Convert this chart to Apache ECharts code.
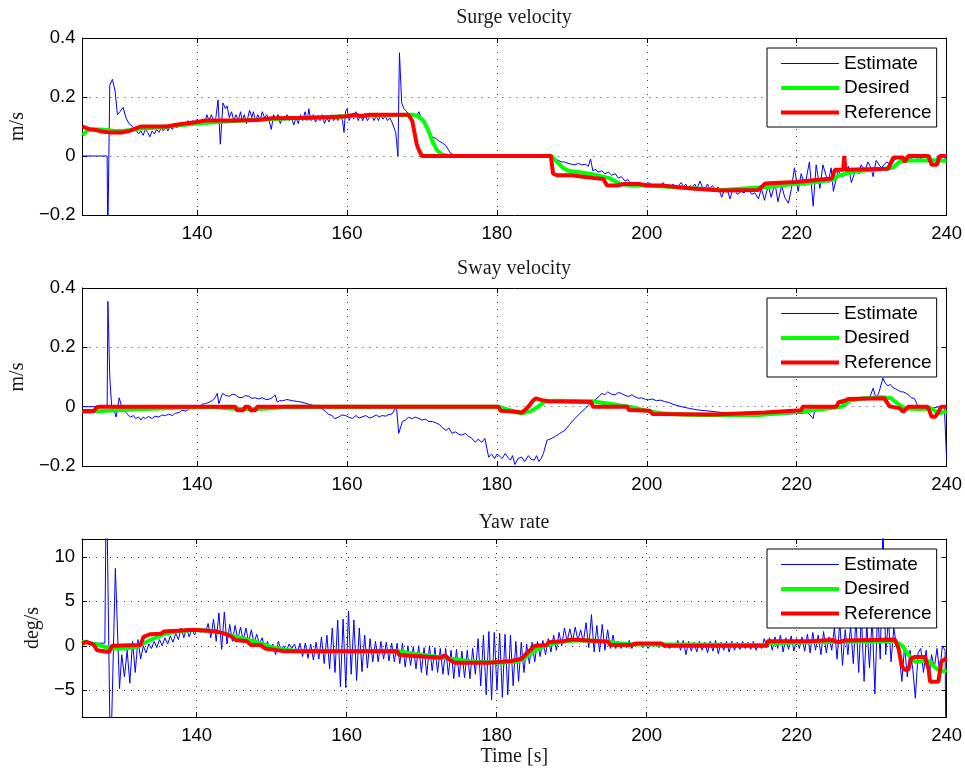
<!DOCTYPE html>
<html>
<head>
<meta charset="utf-8">
<script src="https://cdn.jsdelivr.net/npm/echarts@6/dist/echarts.min.js"></script>
<style>
  html, body { margin: 0; padding: 0; background: #fff; }
  #chart { width: 965px; height: 773px; }
</style>
</head>
<body>
<div id="chart"></div>
<script>
// ---- axis ticks ----
const timeTicks = [140, 160, 180, 200, 220, 240];
const velocityTicks = [-0.2, 0, 0.2, 0.4];
const yawTicks = [-5, 0, 5, 10];

const seriesNames = ['Estimate', 'Desired', 'Reference'];
const panelTitles = ['Surge velocity', 'Sway velocity', 'Yaw rate'];
const panelUnits = ['m/s', 'm/s', 'deg/s'];

// ---- surge velocity [t (s), m/s] ----
const surgeEstimate = [[124.7,0],[128.0,0],[128.08,-0.3],[128.35,0.24],[128.7,0.26],[129.06,0.22],[129.37,0.14],[129.7,0.15],[130.13,0.165],[130.5,0.13],[130.9,0.11],[131.4,0.1],[131.8,0.09],[132.2,0.075],[132.5,0.085],[132.8,0.07],[133.1,0.09],[133.4,0.08],[133.7,0.065],[134.0,0.085],[134.3,0.075],[134.6,0.09],[134.9,0.08],[135.2,0.095],[135.5,0.085],[135.8,0.1],[136.1,0.085],[136.4,0.1],[136.7,0.09],[137.0,0.105],[137.3,0.095],[137.6,0.11],[137.9,0.1],[138.2,0.115],[138.5,0.105],[138.8,0.12],[139.1,0.11],[139.4,0.12],[139.7,0.11],[140.0,0.125],[140.3,0.115],[140.7,0.125],[141.0,0.11],[141.3,0.14],[141.6,0.12],[141.9,0.14],[142.2,0.12],[142.5,0.13],[142.8,0.19],[143.1,0.04],[143.45,0.18],[143.8,0.16],[144.0,0.17],[144.3,0.13],[144.6,0.15],[144.9,0.12],[145.2,0.14],[145.5,0.12],[145.8,0.15],[146.0,0.12],[146.3,0.14],[146.6,0.11],[147.0,0.155],[147.3,0.13],[147.5,0.15],[147.8,0.12],[148.1,0.14],[148.4,0.12],[148.7,0.15],[149.0,0.13],[149.3,0.14],[149.6,0.12],[149.9,0.09],[150.2,0.14],[150.5,0.125],[150.8,0.14],[151.1,0.11],[151.4,0.13],[151.7,0.12],[152.0,0.14],[152.3,0.12],[152.6,0.13],[152.9,0.105],[153.2,0.13],[153.5,0.11],[153.8,0.14],[154.1,0.12],[154.4,0.15],[154.7,0.12],[154.9,0.16],[155.2,0.12],[155.5,0.14],[155.8,0.115],[156.1,0.13],[156.4,0.12],[156.7,0.14],[157.0,0.11],[157.3,0.13],[157.6,0.115],[157.9,0.14],[158.2,0.12],[158.5,0.13],[158.8,0.12],[159.1,0.14],[159.4,0.12],[159.6,0.08],[159.8,0.15],[160.0,0.16],[160.3,0.12],[160.6,0.14],[160.9,0.125],[161.2,0.15],[161.5,0.12],[161.8,0.14],[162.1,0.12],[162.4,0.145],[162.7,0.12],[163.0,0.13],[163.3,0.14],[163.6,0.12],[163.9,0.135],[164.2,0.12],[164.5,0.14],[164.8,0.125],[165.1,0.135],[165.4,0.12],[165.7,0.13],[166.0,0.115],[166.5,0.08],[166.8,0.0],[167.0,0.35],[167.3,0.18],[167.6,0.16],[168.0,0.15],[168.3,0.14],[168.7,0.145],[169.2,0.135],[169.6,0.15],[170.0,0.12],[170.5,0.1],[170.9,0.085],[171.4,0.065],[171.8,0.06],[172.3,0.05],[172.7,0.045],[173.2,0.035],[173.8,0.01],[174.5,0.0],[175.5,-0.004],[177.2,-0.005],[180,0.0],[183.5,0.005],[185,0.003],[187.3,0.0],[187.7,-0.01],[188.2,-0.015],[188.6,-0.02],[189.0,-0.02],[189.5,-0.025],[190.0,-0.028],[190.4,-0.03],[190.9,-0.025],[191.3,-0.03],[191.8,-0.028],[192.2,-0.035],[192.5,-0.01],[192.8,-0.05],[193.2,-0.045],[193.5,-0.055],[194.0,-0.05],[194.4,-0.06],[194.9,-0.055],[195.3,-0.065],[195.8,-0.06],[196.2,-0.075],[196.6,-0.07],[197.1,-0.085],[197.5,-0.08],[198.0,-0.1],[198.4,-0.09],[198.9,-0.09],[199.3,-0.1],[199.7,-0.1],[200.1,-0.09],[200.6,-0.095],[200.9,-0.105],[201.2,-0.095],[201.5,-0.105],[201.8,-0.1],[202.2,-0.09],[202.5,-0.105],[202.9,-0.1],[203.2,-0.11],[203.5,-0.095],[203.8,-0.105],[204.2,-0.1],[204.6,-0.09],[204.9,-0.105],[205.2,-0.095],[205.5,-0.11],[205.8,-0.1],[206.1,-0.105],[206.4,-0.095],[206.7,-0.11],[207.1,-0.085],[207.4,-0.105],[207.8,-0.11],[208.1,-0.095],[208.4,-0.11],[208.8,-0.1],[209.1,-0.115],[209.5,-0.105],[210.0,-0.14],[210.4,-0.11],[210.8,-0.12],[211.1,-0.145],[211.4,-0.12],[211.7,-0.115],[212.1,-0.13],[212.6,-0.12],[213.0,-0.125],[213.5,-0.11],[214.0,-0.13],[214.4,-0.125],[214.9,-0.145],[215.3,-0.11],[215.7,-0.15],[216.2,-0.1],[216.6,-0.14],[217.1,-0.09],[217.5,-0.155],[218.0,-0.1],[218.4,-0.14],[218.9,-0.16],[219.3,-0.11],[219.7,-0.04],[220.2,-0.12],[220.6,-0.06],[221.1,-0.1],[221.7,-0.02],[222.2,-0.17],[222.6,-0.03],[223.1,-0.11],[223.5,-0.03],[224.2,-0.09],[224.6,-0.04],[224.9,-0.12],[225.5,-0.05],[226.2,-0.07],[226.9,-0.035],[227.3,-0.09],[227.9,-0.045],[228.3,-0.06],[228.6,-0.03],[229.1,-0.05],[229.5,-0.02],[229.9,-0.04],[230.2,-0.07],[230.6,-0.015],[231.0,-0.03],[231.3,-0.04],[232.0,-0.02],[232.6,-0.03],[233.0,-0.015],[233.5,-0.005],[234.0,-0.015],[234.4,-0.02],[234.9,-0.005],[235.3,-0.01],[235.8,-0.015],[236.2,-0.005],[236.7,-0.01],[237.1,-0.02],[237.6,-0.005],[238.0,-0.01],[238.5,-0.015],[238.9,0.0],[239.3,-0.01],[239.7,-0.02],[240.0,0.01]];
const surgeDesired = [[124.7,0.07],[125.3,0.085],[126,0.09],[127,0.09],[128,0.088],[129,0.085],[130,0.085],[131,0.088],[132,0.092],[134,0.095],[136,0.1],[138,0.105],[140,0.11],[143,0.115],[146,0.12],[150,0.125],[155,0.13],[160,0.135],[165,0.138],[168.8,0.14],[169.5,0.135],[170.2,0.12],[170.8,0.09],[171.4,0.05],[172,0.02],[172.7,0.005],[173.5,0],[187.3,0],[188,-0.02],[188.8,-0.04],[189.5,-0.05],[191,-0.055],[193,-0.063],[195,-0.075],[196.5,-0.095],[198,-0.1],[200,-0.1],[205,-0.108],[210,-0.115],[213,-0.11],[216,-0.105],[219,-0.097],[222,-0.09],[224.8,-0.081],[225.7,-0.065],[228,-0.052],[230.2,-0.047],[232.8,-0.04],[233.7,-0.02],[235,-0.015],[238,-0.014],[240,-0.016]];
const surgeReference = [[124.7,0.1],[125.5,0.092],[126.5,0.088],[127.5,0.082],[128.5,0.08],[130,0.08],[131,0.085],[132,0.095],[132.5,0.1],[136,0.1],[137,0.105],[138.5,0.11],[140,0.115],[141,0.12],[145,0.12],[148,0.122],[150,0.128],[155,0.13],[158,0.132],[160,0.135],[161,0.14],[162,0.135],[163,0.14],[168.2,0.14],[168.7,0.12],[169.0,0.08],[169.3,0.04],[169.6,0.02],[170,0],[187.2,0],[187.5,-0.06],[188,-0.065],[190,-0.065],[191.5,-0.07],[193,-0.075],[194.2,-0.078],[194.7,-0.1],[196,-0.1],[197,-0.095],[199,-0.095],[200,-0.1],[202,-0.1],[204,-0.105],[206,-0.11],[210,-0.117],[214.9,-0.115],[215.8,-0.093],[219.8,-0.088],[224.7,-0.076],[225.1,-0.047],[226.2,-0.047],[226.35,0.0],[226.5,-0.047],[232.2,-0.043],[232.9,-0.005],[234.2,-0.005],[234.4,-0.02],[234.9,0],[237.6,0],[238.0,-0.03],[238.7,-0.03],[239.1,0],[240,0]];

// ---- sway velocity [t (s), m/s] ----
const swayEstimate = [[124.7,0],[128.0,0],[128.1,0.355],[128.35,0.1],[128.6,0.0],[128.9,-0.01],[129.2,-0.035],[129.6,0.03],[129.95,0.0],[130.5,-0.02],[131.1,-0.035],[131.5,-0.03],[131.8,-0.04],[132.2,-0.035],[132.5,-0.045],[132.8,-0.035],[133.1,-0.04],[133.5,-0.033],[134.0,-0.04],[134.4,-0.032],[134.9,-0.035],[135.3,-0.028],[135.8,-0.03],[136.2,-0.025],[136.7,-0.03],[137.1,-0.022],[137.6,-0.02],[138.0,-0.012],[138.5,-0.015],[139.0,-0.006],[139.4,-0.005],[139.9,0.002],[140.3,0.0],[140.7,0.008],[141.1,0.01],[141.6,0.015],[142.0,0.02],[142.4,0.03],[142.7,0.045],[142.9,0.01],[143.4,0.045],[143.8,0.038],[144.3,0.035],[144.7,0.042],[145.1,0.04],[145.5,0.032],[146.0,0.03],[146.4,0.037],[146.9,0.035],[147.3,0.028],[147.8,0.03],[148.2,0.026],[148.7,0.03],[149.2,0.024],[149.6,0.025],[150.0,0.03],[150.4,0.04],[150.7,0.015],[151.0,0.02],[151.4,0.02],[152.0,0.024],[152.7,0.02],[153.3,0.018],[154.0,0.015],[154.7,0.01],[155.4,0.005],[156.3,0.0],[156.7,-0.008],[157.1,-0.015],[157.5,-0.025],[158.0,-0.03],[158.4,-0.04],[158.9,-0.035],[159.3,-0.028],[159.8,-0.03],[160.2,-0.035],[160.7,-0.04],[161.2,-0.03],[161.6,-0.038],[162.0,-0.035],[162.5,-0.03],[163.0,-0.038],[163.4,-0.035],[163.9,-0.028],[164.3,-0.034],[164.7,-0.03],[165.2,-0.032],[165.6,-0.026],[166.0,-0.025],[166.6,0.0],[166.9,-0.09],[167.4,-0.05],[167.8,-0.045],[168.2,-0.036],[168.7,-0.04],[169.1,-0.035],[169.6,-0.04],[170.0,-0.045],[170.5,-0.042],[170.9,-0.05],[171.4,-0.05],[171.9,-0.055],[172.3,-0.06],[172.7,-0.07],[173.2,-0.08],[173.6,-0.072],[174.0,-0.09],[174.5,-0.085],[174.9,-0.093],[175.3,-0.096],[175.8,-0.09],[176.2,-0.1],[176.6,-0.105],[177.1,-0.12],[177.5,-0.11],[178.0,-0.12],[178.4,-0.107],[178.9,-0.17],[179.3,-0.16],[179.7,-0.175],[180.0,-0.16],[180.3,-0.165],[180.7,-0.175],[181.1,-0.158],[181.5,-0.172],[181.8,-0.18],[182.1,-0.165],[182.4,-0.195],[182.8,-0.175],[183.3,-0.17],[183.7,-0.185],[184.2,-0.165],[184.6,-0.178],[185.0,-0.18],[185.3,-0.165],[185.6,-0.185],[185.9,-0.175],[186.2,-0.158],[186.7,-0.113],[187.2,-0.108],[187.8,-0.1],[188.4,-0.09],[189.1,-0.079],[189.7,-0.06],[190.4,-0.04],[191.1,-0.022],[191.8,-0.006],[192.4,0.01],[193.1,0.023],[193.6,0.034],[194.0,0.045],[194.4,0.04],[194.8,0.05],[195.3,0.042],[195.8,0.04],[196.2,0.048],[196.6,0.045],[197.1,0.038],[197.6,0.034],[198.0,0.04],[198.4,0.034],[198.9,0.028],[199.3,0.03],[199.8,0.025],[200.2,0.023],[200.7,0.026],[201.3,0.02],[201.8,0.022],[202.4,0.017],[203.0,0.014],[203.5,0.008],[204.6,0.0],[205.7,-0.006],[206.8,-0.011],[209.1,-0.017],[211.3,-0.023],[213.5,-0.026],[215.7,-0.028],[218.0,-0.026],[220.2,-0.023],[221.5,-0.02],[222.2,-0.04],[222.4,-0.012],[223.5,-0.008],[224.6,0.0],[225.7,0.01],[226.8,0.017],[228.0,0.02],[229.1,0.028],[229.8,0.035],[230.2,0.062],[230.6,0.028],[231.0,0.05],[231.5,0.096],[231.8,0.08],[232.2,0.07],[232.5,0.075],[232.8,0.065],[233.2,0.06],[233.5,0.056],[233.9,0.05],[234.2,0.05],[234.6,0.045],[234.9,0.04],[235.3,0.03],[235.7,0.028],[236.2,0.0],[237.0,-0.003],[238.0,-0.006],[239.0,0.0],[239.7,0.0],[240.0,-0.175]];
const swayDesired = [[124.7,-0.017],[126,-0.016],[128,-0.014],[130,-0.011],[132,-0.009],[134,-0.007],[136,-0.005],[138,-0.003],[140.7,-0.002],[142,0],[144,-0.005],[146,-0.008],[148,-0.008],[150,-0.005],[151.8,0],[180.2,0],[181.5,-0.01],[183.3,-0.023],[184.5,-0.015],[185.5,0.0],[186.4,0.017],[187.5,0.02],[192.7,0.018],[195,0.01],[198,-0.002],[200.2,-0.015],[202,-0.022],[204.6,-0.026],[207,-0.028],[215,-0.028],[220.2,-0.017],[222.4,-0.011],[226,0],[227.3,0.023],[229,0.028],[231.3,0.032],[232.6,0.028],[233.5,0.01],[234.4,-0.006],[236.5,-0.008],[238,-0.006],[238.9,-0.023],[240,-0.015]];
const swayReference = [[124.7,-0.015],[126.2,-0.015],[126.6,-0.002],[127,0],[145.1,0],[145.3,-0.012],[146.2,-0.012],[146.4,0],[146.9,0],[147.1,-0.012],[147.8,-0.012],[148,0],[180.2,0],[180.5,-0.014],[182,-0.016],[183.3,-0.02],[183.8,-0.01],[184.2,0],[184.8,0.02],[185.2,0.028],[186.0,0.022],[186.9,0.018],[192.6,0.016],[192.8,0.0],[197.4,0],[197.6,-0.011],[200.4,-0.014],[200.8,-0.025],[209.1,-0.026],[215.7,-0.02],[220.6,-0.012],[220.8,0],[225.3,0],[225.6,0.015],[226.4,0.02],[226.9,0.026],[231.7,0.028],[232.4,0.001],[233.7,-0.005],[234.2,-0.017],[234.9,0],[237.5,0],[237.8,-0.02],[238.0,-0.034],[238.5,-0.034],[238.9,-0.018],[239.3,0],[240,0]];

// ---- yaw rate [t (s), deg/s] ----
// start-up transient, then samples every yawSampleStep seconds, then the final drop-out
const yawEstimateHead = [[124.7,0.3],[127.75,0.3],[127.95,20],[128.15,20],[128.5,-14],[128.75,-14],[129.15,8.7],[129.7,-4.8]];
const yawSampleStart = 130.0;
const yawSampleStep = 0.36;
const yawEstimateSamples = [
  -1.0, -3.5, -0.5, -4.2, 0.5, -3.0, 0.7, -1.5,
  0.0, -0.8, 0.2, -0.3, 0.5, -0.2, 0.7, 0.0,
  0.9, 0.2, 1.1, 0.4, 1.4, 0.7, 2.0, 0.9,
  2.0, 1.0, 1.9, 1.2, 2.0, 1.5, 1.8, 1.5,
  2.5, 0.9, 3.0, 0.5, 3.7, -0.4, 3.8, 0.2,
  2.4, 0.5, 2.3, 0.7, 2.1, 0.6, 2.0, 0.4,
  1.8, 0.3, 1.3, 0.2, 0.9, -0.3, 0.5, -0.6,
  0.2, -1.0, 0.5, -0.4, 0.0, -0.6, 0.2, -0.3,
  0.2, -0.8, 0.3, -1.2, 0.3, -1.4, 0.2, -1.6,
  0.4, -1.5, 1.0, -2.0, 1.2, -2.6, 2.0, -3.0,
  2.9, -4.6, 3.0, -4.7, 3.9, -3.2, 2.9, -3.9,
  2.0, -2.9, 1.2, -2.5, 0.8, -1.8, 0.5, -1.8,
  0.5, -1.5, 0.4, -1.7, 0.3, -1.8, 0.3, -2.0,
  0.3, -2.4, 0.0, -2.2, -0.1, -2.6, 0.0, -3.0,
  -0.2, -3.3, 0.0, -2.8, -0.2, -3.0, -0.3, -3.2,
  -0.3, -3.3, -0.5, -3.7, -0.4, -3.5, -0.6, -3.6,
  -0.5, -3.7, -0.3, -3.2, 0.8, -4.5, 1.2, -5.5,
  1.6, -6.1, 1.5, -5.0, 1.4, -5.8, 1.3, -5.5,
  1.2, -4.5, 0.5, -4.0, 0.4, -3.0, 0.2, -2.0,
  0.4, -1.8, 0.5, -1.2, 0.6, -1.0, 0.8, -0.7,
  1.2, -0.5, 1.5, 0.0, 2.0, 0.5, 1.9, 0.5,
  2.1, 0.6, 1.8, 0.4, 2.6, -0.2, 3.5, -0.7,
  2.3, -0.7, 2.4, -0.5, 1.8, -0.3, 1.2, -0.3,
  0.5, -0.3, 0.4, -0.2, 0.6, -0.3, 0.4, 0.0,
  0.3, -0.2, 0.2, -0.3, 0.3, -0.1, 0.4, -0.2,
  0.3, -0.2, 0.2, -0.3, 0.2, -0.2, 0.6, -0.5,
  0.6, -1.0, 0.5, -0.6, 0.4, -0.7, 0.5, -0.5,
  0.4, -0.8, 0.5, -0.6, 0.6, -0.9, 0.4, -0.5,
  0.5, -0.7, 0.5, -0.5, 0.4, -0.4, 0.5, -0.3,
  0.4, -0.4, 0.5, -0.5, 0.3, -0.3, 0.8, -0.2,
  0.9, -0.5, 1.0, -0.3, 1.2, -0.7, 0.9, -0.4,
  1.1, -0.6, 0.8, -0.3, 1.0, -0.6, 1.3, -0.8,
  1.5, -0.5, 1.2, -1.0, 1.6, -0.8, 1.0, -0.5,
  2.0, -1.5, 2.7, -2.2, 1.8, -1.0, 2.2, -2.0,
  3.0, -3.0, 3.5, -4.0, 2.5, -2.5, 3.2, -5.4,
  4.0, -1.5, 14.0, -1.0, 3.0, -1.8, 2.0, 0.0,
  -1.0, -4.0, 0.0, -3.5, -0.5, -2.5, -5.9, -0.8,
  -0.3, -3.0, -0.5, -3.7, -1.0, -2.5, -0.3, -3.0,
  0.0, -0.5
];
const yawEstimateTail = [[239.95,-14],[240,-14]];
const yawDesired = [[124.7,0.5],[126.7,0.15],[128.5,-0.3],[130.3,-0.3],[132.0,-0.1],[133.8,0.65],[135.6,1.3],[137.4,1.6],[139.2,1.75],[140.9,1.75],[142.7,1.6],[144.5,1.2],[146.3,0.8],[148.0,0.4],[149.8,-0.1],[151.6,-0.4],[153.5,-0.6],[166.9,-0.6],[169,-0.9],[171.8,-1.2],[174.4,-1.5],[177.1,-1.8],[180.7,-1.9],[182.5,-1.8],[183.3,-1.6],[184.2,-1.1],[185.1,-0.5],[186.9,0.1],[188.7,0.45],[190.4,0.6],[192.5,0.6],[194.4,0.5],[196.2,0.3],[198,0.15],[205,0.15],[215.8,0.1],[216.5,0.3],[221.6,0.4],[233.1,0.5],[234,0.1],[234.9,-1.0],[235.8,-1.8],[237.6,-1.7],[238.4,-2.4],[239.3,-2.9],[240,-2.75]];
const yawReference = [[124.7,0.25],[125.3,0.45],[126.3,0.1],[126.7,-0.5],[128.3,-0.7],[128.7,0],[132.5,0.1],[132.9,1.0],[133.8,1.3],[135.2,1.35],[135.6,1.6],[137.4,1.7],[139.6,1.8],[142.7,1.6],[143.6,1.4],[144.5,1.1],[145.2,0.65],[146.7,0.5],[147.2,0.1],[148.5,0.1],[149.1,-0.3],[151.6,-0.6],[166.7,-0.6],[167.0,-1.0],[168,-1.1],[172.6,-1.35],[172.9,-1.1],[173.3,-1.2],[173.6,-1.5],[174.4,-1.9],[178.9,-1.9],[182,-1.7],[183.3,-1.45],[184.2,-0.7],[185.1,0],[186.7,0.1],[186.9,0.4],[188.7,0.5],[190,0.7],[192.2,0.6],[194.9,0.45],[195.1,0.1],[198,0.1],[198.5,0.25],[202,0.25],[202.4,0],[216,0],[216.1,0.5],[221.6,0.5],[224.7,0.65],[225.6,0.4],[226.4,0.6],[233.1,0.7],[233.6,-0.3],[234.0,-2.2],[234.4,-2.7],[234.9,-2.7],[235.3,-1.4],[235.8,-1.25],[237.1,-1.25],[237.6,-2.6],[237.8,-4.05],[238.9,-4.05],[239.3,-1.8],[240,-1.35]];

// ---- assemble yaw estimate ----
const yawEstimate = yawEstimateHead
  .concat(yawEstimateSamples.map((v, i) => [+(yawSampleStart + i * yawSampleStep).toFixed(2), v]))
  .concat(yawEstimateTail);

const panelData = [
  [surgeEstimate, surgeDesired, surgeReference],
  [swayEstimate, swayDesired, swayReference],
  [yawEstimate, yawDesired, yawReference]
];

// ---- layout & styles ----
const T_MIN = 124.7, T_MAX = 240;
const grids = [
  { left: 82, top: 38, width: 865, height: 177 },
  { left: 82, top: 288, width: 865, height: 178 },
  { left: 82, top: 539, width: 865, height: 178 }
];
const yRanges = [
  { min: -0.2, max: 0.4, ticks: velocityTicks },
  { min: -0.2, max: 0.4, ticks: velocityTicks },
  { min: -8, max: 12, ticks: yawTicks }
];
const titleY = [18, 268.5, 523];
const legendTop = [48, 298, 549];
const unitGap = [46, 46, 36];
const lineColors = ['#0000ff', '#00ff00', '#ff0000'];
const lineWidths = [1, 4, 4];

const sansFont = 'Liberation Sans, Arial, Helvetica, sans-serif';
const serifFont = 'Liberation Serif, Times New Roman, serif';
const gridDots = { color: '#3a3a3a', width: 1, type: [1, 6] };

function fmtVelocity(v) {
  if (Math.abs(v) < 1e-9) return '0';
  return (v < 0 ? '\u2212' : '') + Math.abs(v).toFixed(1);
}
function fmtYaw(v) {
  if (Math.abs(v) < 1e-9) return '0';
  return (v < 0 ? '\u2212' : '') + Math.abs(v);
}

const xAxes = [], yAxes = [], series = [], legends = [], graphics = [];
grids.forEach((g, i) => {
  const isLast = i === grids.length - 1;
  // bottom axis with labels and vertical dotted grid lines
  xAxes.push({
    type: 'value', gridIndex: i, position: 'bottom', min: T_MIN, max: T_MAX,
    name: isLast ? 'Time [s]' : '', nameLocation: 'middle', nameGap: 30,
    nameTextStyle: { fontFamily: serifFont, fontSize: 20, color: '#1a1a1a' },
    axisLine: { show: true, onZero: false, lineStyle: { color: '#000', width: 1 } },
    axisTick: { show: true, inside: true, length: 5, customValues: timeTicks, lineStyle: { color: '#000' } },
    axisLabel: { show: true, customValues: timeTicks, margin: 9, fontFamily: sansFont, fontSize: 18.5, color: '#000' },
    splitLine: { show: true, lineStyle: gridDots }
  });
  // top frame edge with inward ticks
  xAxes.push({
    type: 'value', gridIndex: i, position: 'top', min: T_MIN, max: T_MAX,
    axisLine: { show: true, onZero: false, lineStyle: { color: '#000', width: 1 } },
    axisTick: { show: true, inside: true, length: 5, customValues: timeTicks, lineStyle: { color: '#000' } },
    axisLabel: { show: false },
    splitLine: { show: false }
  });
  const yr = yRanges[i];
  const fmt = i === 2 ? fmtYaw : fmtVelocity;
  yAxes.push({
    type: 'value', gridIndex: i, position: 'left', min: yr.min, max: yr.max,
    name: panelUnits[i], nameLocation: 'middle', nameGap: unitGap[i], nameRotate: 90,
    nameTextStyle: { fontFamily: serifFont, fontSize: 20, color: '#1a1a1a' },
    axisLine: { show: true, onZero: false, lineStyle: { color: '#000', width: 1 } },
    axisTick: { show: true, inside: true, length: 5, customValues: yr.ticks, lineStyle: { color: '#000' } },
    axisLabel: { show: true, customValues: yr.ticks, margin: 7, formatter: fmt, fontFamily: sansFont, fontSize: 18.5, color: '#000' },
    splitLine: { show: true, lineStyle: gridDots }
  });
  // right frame edge with inward ticks
  yAxes.push({
    type: 'value', gridIndex: i, position: 'right', min: yr.min, max: yr.max,
    axisLine: { show: true, onZero: false, lineStyle: { color: '#000', width: 1 } },
    axisTick: { show: true, inside: true, length: 5, customValues: yr.ticks, lineStyle: { color: '#000' } },
    axisLabel: { show: false },
    splitLine: { show: false }
  });

  panelData[i].forEach((data, k) => {
    series.push({
      type: 'line', name: seriesNames[k], data: data,
      xAxisIndex: 2 * i, yAxisIndex: 2 * i,
      symbol: 'none', showSymbol: false, clip: true,
      lineStyle: { color: lineColors[k], width: lineWidths[k] },
      itemStyle: { color: lineColors[k] },
      emphasis: { disabled: true },
      z: 2 + k
    });
  });

  // legend box: plain line samples, no markers
  legends.push({
    data: seriesNames, orient: 'vertical', left: 767, top: legendTop[i],
    itemWidth: 58, itemHeight: 14, itemGap: 5.5,
    padding: [6, 5, 5, 12],
    backgroundColor: '#fff', borderColor: '#000', borderWidth: 1, borderRadius: 0,
    lineStyle: { width: 'inherit' },
    itemStyle: { opacity: 0 },
    textStyle: { fontFamily: sansFont, fontSize: 19, color: '#000', lineHeight: 19 },
    selectedMode: false
  });

  graphics.push({
    type: 'text', x: 514, y: titleY[i],
    style: { text: panelTitles[i], font: '20px ' + serifFont, fill: '#1a1a1a', align: 'center', verticalAlign: 'middle' }
  });
});

const chart = echarts.init(document.getElementById('chart'), null, { renderer: 'canvas' });
chart.setOption({
  animation: false,
  backgroundColor: '#fff',
  grid: grids,
  xAxis: xAxes,
  yAxis: yAxes,
  legend: legends,
  graphic: graphics,
  series: series
});
</script>
</body>
</html>
